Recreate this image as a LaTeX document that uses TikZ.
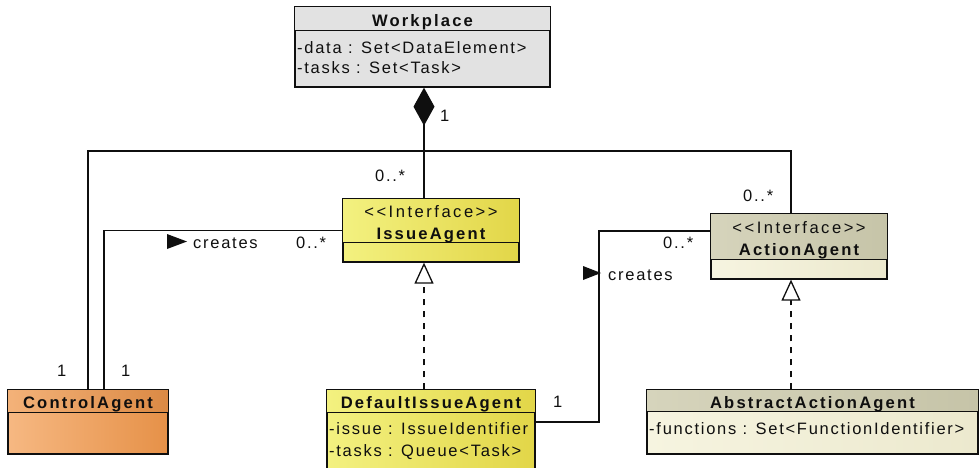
\documentclass[tikz,border=0pt]{standalone}
\usepackage{fontspec}
\setmainfont{Liberation Sans}[LetterSpace=10.5]
\newfontfamily\hdfont{Liberation Sans}[LetterSpace=13]
\newfontfamily\stfont{Liberation Sans}[LetterSpace=15]
\usetikzlibrary{arrows.meta}
\definecolor{ink}{RGB}{15,15,15}
\definecolor{wpgrey}{RGB}{226,226,226}
\definecolor{yelL}{RGB}{243,241,128}
\definecolor{yelR}{RGB}{226,214,72}
\definecolor{tanHL}{RGB}{214,212,188}
\definecolor{tanHR}{RGB}{198,196,168}
\definecolor{tanBL}{RGB}{246,244,224}
\definecolor{tanBR}{RGB}{236,233,206}
\definecolor{orL}{RGB}{246,184,130}
\definecolor{orR}{RGB}{230,145,72}
\tikzset{
  cls/.style={rectangle, draw=ink, line width=1.3pt, inner sep=0pt},
  hdr/.style={draw=ink, line width=1.3pt},
  conn/.style={draw=ink, line width=1.3pt},
  real/.style={draw=ink, line width=1.3pt, dash pattern=on 6pt off 6pt, -{Triangle[open, length=21pt, width=19pt, line width=1.3pt, fill=white]}},
  comp/.style={draw=ink, line width=1.3pt, {Diamond[length=38pt, width=21pt, fill=ink]}-},
  title/.style={anchor=base, inner sep=0pt, text=ink, font=\fontsize{16.6}{18}\selectfont\hdfont\bfseries},
  stereo/.style={anchor=base, inner sep=0pt, text=ink, font=\fontsize{16.6}{18}\selectfont\stfont},
  attr/.style={anchor=base west, inner sep=0pt, text=ink, font=\fontsize{16.5}{18}\selectfont},
  lbl/.style={anchor=base west, inner sep=0pt, text=ink, font=\fontsize{16.5}{18}\selectfont}
}
\begin{document}
\begin{tikzpicture}[x=1pt, y=-1pt]
\useasboundingbox (0,0) rectangle (980,467);

% ---- Workplace
\node[cls, minimum width=255pt, minimum height=80pt, fill=wpgrey] (wp) at (422.5,47) {};
\draw[hdr, fill=wpgrey] (wp.north west) rectangle ([yshift=-24pt]wp.north east);
\node[title] (wpT) at (422.5,26) {Workplace};
\node[attr] (wpA1) at (297,53) {-data : Set<DataElement>};
\node[attr] (wpA2) at (297,73.5) {-tasks : Set<Task>};

% ---- IssueAgent
\node[cls, minimum width=176pt, minimum height=63pt, left color=yelL, right color=yelR] (issue) at (431,230.5) {};
\draw[hdr, left color=yelL, right color=yelR] (issue.north west) rectangle ([yshift=-44pt]issue.north east);
\node[stereo] (issueS) at (431,217) {<<Interface>>};
\node[title] (issueT) at (431,239) {IssueAgent};

% ---- ActionAgent
\node[cls, minimum width=176pt, minimum height=65pt, left color=tanBL, right color=tanBR] (action) at (799,246.5) {};
\draw[hdr, left color=tanHL, right color=tanHR] (action.north west) rectangle ([yshift=-46pt]action.north east);
\node[stereo] (actionS) at (799,233) {<<Interface>>};
\node[title] (actionT) at (799,255) {ActionAgent};

% ---- ControlAgent
\node[cls, minimum width=160pt, minimum height=64pt, left color=orL, right color=orR] (control) at (88,422) {};
\draw[hdr, left color=orL!85!orR, right color=orR!95!black] (control.north west) rectangle ([yshift=-23pt]control.north east);
\node[title] (controlT) at (88,408) {ControlAgent};

% ---- DefaultIssueAgent
\node[cls, minimum width=208pt, minimum height=90pt, left color=yelL, right color=yelR] (dia) at (431,435) {};
\draw[hdr, left color=yelL, right color=yelR] (dia.north west) rectangle ([yshift=-23pt]dia.north east);
\node[title] (diaT) at (431,408) {DefaultIssueAgent};
\node[attr] (diaA1) at (329,434) {-issue : IssueIdentifier};
\node[attr] (diaA2) at (329,456) {-tasks : Queue<Task>};

% ---- AbstractActionAgent
\node[cls, minimum width=331pt, minimum height=64pt, left color=tanBL, right color=tanBR] (aaa) at (812.5,422) {};
\draw[hdr, left color=tanHL, right color=tanHR] (aaa.north west) rectangle ([yshift=-22pt]aaa.north east);
\node[title] (aaaT) at (812.5,408) {AbstractActionAgent};
\node[attr] (aaaA1) at (649,434) {-functions : Set<FunctionIdentifier>};

% ---- helper coordinates
\coordinate (xI) at (424,0);
\coordinate (xA) at (791,0);
\coordinate (xC) at (104,0);
\coordinate (jn) at (424,151);
\coordinate (bend) at (599,231);
\coordinate (yD) at (0,422);

% ---- composition Workplace -> IssueAgent
\draw[comp] (wp.south -| xI) -- (issue.north -| xI);
% ---- tree: ControlAgent -- junction -- ActionAgent
\draw[conn] (control.north) |- (jn) -| (action.north -| xA);
% ---- creates (ControlAgent -> IssueAgent)
\draw[conn] (control.north -| xC) |- (issue.west);
% ---- creates (DefaultIssueAgent -> ActionAgent)
\draw[conn] (dia.east |- yD) -| (bend) -- (action.west |- bend);
% ---- realizations
\draw[real] (dia.north -| xI) -- (issue.south -| xI);
\draw[real] (aaa.north -| xA) -- (action.south -| xA);

% ---- direction triangles
\fill[ink] (167,234) -- (187,241.5) -- (167,249) -- cycle;
\fill[ink] (583,266) -- (601,273) -- (583,280) -- cycle;

% ---- labels
\node[lbl] (m1) at (440,121) {1};
\node[lbl] (m2) at (375,181) {0..*};
\node[lbl] (m3) at (743,201) {0..*};
\node[lbl] (m4) at (57,376) {1};
\node[lbl] (m5) at (121,376) {1};
\node[lbl] (cr1) at (193,248) {creates};
\node[lbl] (m6) at (296,248) {0..*};
\node[lbl] (m7) at (663,248) {0..*};
\node[lbl] (cr2) at (608,280) {creates};
\node[lbl] (m8) at (553,407) {1};
\end{tikzpicture}
\end{document}
